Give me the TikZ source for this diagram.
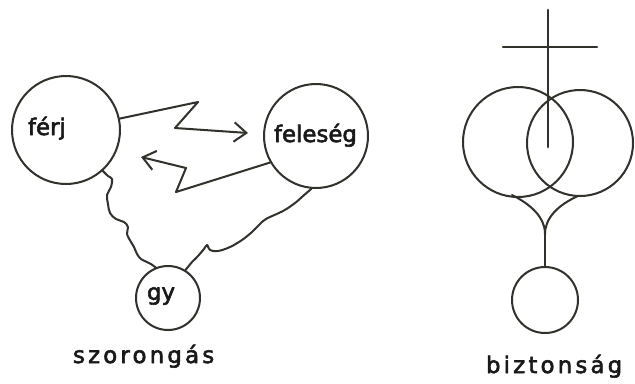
\documentclass[tikz,border=0pt]{standalone}
\usepackage{fontspec}
\usepackage{tikz}
\usetikzlibrary{arrows.meta}
\newfontfamily\handfont[FakeBold=2.5]{DejaVu Sans}
\newfontfamily\handwide[LetterSpace=14,FakeBold=2.5]{DejaVu Sans}
\definecolor{ceruza}{RGB}{50,50,45}

\begin{document}
\begin{tikzpicture}[x=0.02cm, y=-0.02cm, line width=1.15pt, draw=ceruza, text=black!90, line join=round, line cap=round,
	>={Straight Barb[length=7pt,width=11pt]},
	kor/.style={draw, circle, inner sep=0pt},
	felirat/.style={inner sep=0pt, anchor=base west, font=\handfont\fontsize{13}{15}\selectfont},
	cim/.style={inner sep=0pt, anchor=base west, font=\handwide\fontsize{13}{15}\selectfont}]
			%%%	Keret
			\useasboundingbox (0,0) rectangle (635,383);
			%%%	Help Lines
%			\draw [thin, help lines, step=50] (0,0) grid (635,383);
			%%%	Szorongas
			\node[kor, minimum size=2.16cm] (ferj) at (66,130) {};
			\node[kor, minimum size=2.08cm] (feleseg) at (316,136) {};
			\node[kor, minimum size=1.28cm] (gy) at (168,298) {};
			\node[felirat] (ferjtxt) at (27,135) {férj};
			\node[felirat] (felesegtxt) at (273,142) {feleség};
			\node[felirat] (gytxt) at (146,300) {gy};
			\node[cim] (szorongas) at (72,363) {szorongás};
			% villamok
			\coordinate (v1) at (248,133);
			\coordinate (v2) at (141,157);
			\draw[->] (ferj.12) -- (198,102) -- (175,128) -- (v1);
			\draw[->] (feleseg.210) -- (176,192) -- (186,168) -- (v2);
			% hullamos vonalak
			\draw plot[smooth, tension=0.6] coordinates {(ferj.-48) (108,176) (112,179) (111,187) (107,195) (108,204) (110,213) (116,219) (124,222) (128,227) (127,234) (131,242) (134,247) (137,254) (141,259) (147,262) (151,264)} -- (gy.112);
			\draw plot[smooth, tension=0.6] coordinates {(feleseg.-95) (303,196) (295,203) (283,211) (266,219) (258,226) (252,232) (242,240) (230,247) (218,251) (210,250) (207,245) (204,249) (198,256) (192,262)} -- (gy.58);
			%%%	Biztonsag
			\draw (518,142) circle (55*0.02cm);
			\draw (580,143) circle (53*0.02cm);
			\draw (545,300) circle (33*0.02cm);
			\draw (512,195) .. controls (532,205) and (545,218) .. (545,234);
			\draw (578,196) .. controls (558,205) and (545,218) .. (545,234);
			\draw (545,234) -- (545,267);
			\draw[line width=1.5pt] (548,10) -- (548,147);
			\draw[line width=1.5pt] (503,47) -- (597,47);
			\node[cim] (biztonsag) at (485,373) {biztonság};
		\end{tikzpicture}
\end{document}
